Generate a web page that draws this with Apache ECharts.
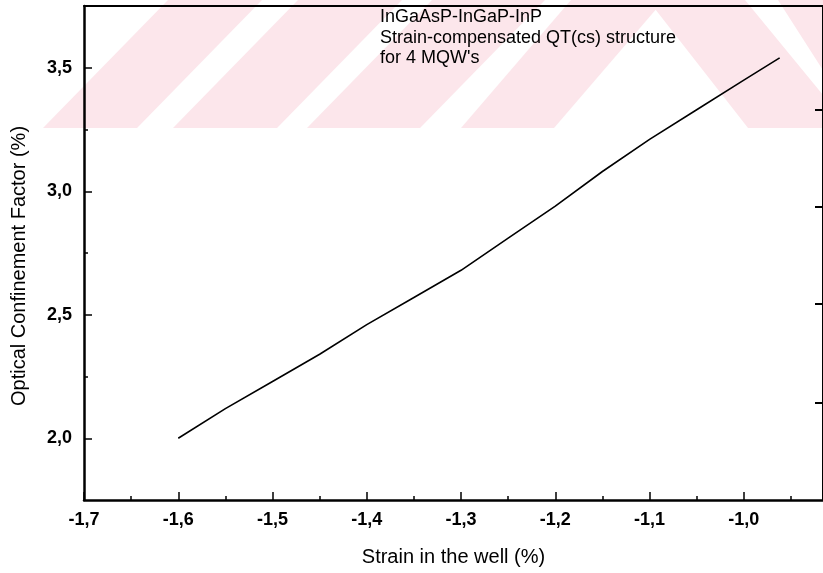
<!DOCTYPE html>
<html>
<head>
<meta charset="utf-8">
<script src="https://cdn.jsdelivr.net/npm/echarts@6/dist/echarts.min.js"></script>
<style>
html,body{margin:0;padding:0;background:#fff;}
#chart{width:823px;height:573px;}
</style>
</head>
<body>
<div id="chart"></div>
<script>
// ---- data ----
const strain = [-1.60, -1.55, -1.50, -1.45, -1.40, -1.35, -1.30, -1.25, -1.20, -1.15, -1.10, -1.05, -1.00, -0.962];
const confinement = [2.00, 2.12, 2.23, 2.34, 2.46, 2.57, 2.68, 2.81, 2.94, 3.08, 3.21, 3.33, 3.45, 3.54];
const xMajorTicks = [-1.7, -1.6, -1.5, -1.4, -1.3, -1.2, -1.1, -1.0];
const xMinorTicks = [-1.65, -1.55, -1.45, -1.35, -1.25, -1.15, -1.05, -0.95];
const yMajorTicks = [2.0, 2.5, 3.0, 3.5];
const yMinorTicks = [2.25, 2.75, 3.25];
const yRightTicks = [2.145, 2.543, 2.937, 3.331];
const noteLines = ["InGaAsP-InGaP-InP", "Strain-compensated QT(cs) structure", "for 4 MQW's"];
const xTitle = "Strain in the well (%)";
const yTitle = "Optical Confinement Factor (%)";

const FONT = '"Liberation Sans", Arial, sans-serif';
const comma = v => Number(v).toFixed(1).replace('.', ',');

// watermark stripes (decorative background)
const PINK = '#fce6eb';
const BAND = 128;
function slantPoly(x0, x1, dx) { // bottom x0..x1, shifted by dx at the top
  return [[x0, BAND], [x1, BAND], [x1 + dx, 0], [x0 + dx, 0]];
}
const stripes = [
  slantPoly(43, 137, 125),
  slantPoly(173, 277, 125),
  slantPoly(307, 420, 125),
  slantPoly(461, 554, 110),
  [[748, BAND], [850, BAND], [745, 0], [648, 0]],
  [[860, BAND], [900, BAND], [900, 0], [778, 0]]
];
const graphics = stripes.map(p => ({
  type: 'polygon', z: -10, silent: true,
  shape: { points: p }, style: { fill: PINK }
}));
graphics.push({
  type: 'text', left: 380, top: 7, z: 50,
  style: { text: noteLines.join('\n'), font: '18px ' + FONT, fill: '#000', lineHeight: 20.5 }
});

const chart = echarts.init(document.getElementById('chart'), null, { renderer: 'canvas' });
const axisLineStyle = { color: '#000', width: 2.5 };
const baseX = { type: 'value', min: -1.7, max: -0.916, splitLine: { show: false } };
const baseY = { type: 'value', min: 1.75, max: 3.75, splitLine: { show: false } };

chart.setOption({
  animation: false,
  backgroundColor: '#fff',
  graphic: graphics,
  grid: { left: 84, top: 6, right: -4, bottom: 73, containLabel: false },
  xAxis: [
    Object.assign({}, baseX, {
      position: 'bottom',
      axisLine: { show: true, onZero: false, lineStyle: axisLineStyle },
      axisTick: { show: true, inside: true, length: 8, customValues: xMajorTicks, lineStyle: { color: '#000', width: 1.5 } },
      axisLabel: { show: true, customValues: xMajorTicks, formatter: comma, margin: 11,
        fontFamily: FONT, fontSize: 18, fontWeight: 'bold', color: '#000' },
      name: xTitle, nameLocation: 'middle', nameGap: 47,
      nameTextStyle: { fontFamily: FONT, fontSize: 20, color: '#000' }
    }),
    Object.assign({}, baseX, {
      position: 'bottom',
      axisLine: { show: false, onZero: false },
      axisTick: { show: true, inside: true, length: 4, customValues: xMinorTicks, lineStyle: { color: '#000', width: 1.5 } },
      axisLabel: { show: false }
    }),
    Object.assign({}, baseX, {
      position: 'top',
      axisLine: { show: true, onZero: false, lineStyle: { color: '#000', width: 2 } },
      axisTick: { show: false },
      axisLabel: { show: false }
    })
  ],
  yAxis: [
    Object.assign({}, baseY, {
      position: 'left',
      axisLine: { show: true, onZero: false, lineStyle: axisLineStyle },
      axisTick: { show: true, inside: true, length: 8, customValues: yMajorTicks, lineStyle: { color: '#000', width: 1.5 } },
      axisLabel: { show: true, customValues: yMajorTicks, formatter: comma, margin: 12,
        fontFamily: FONT, fontSize: 18, fontWeight: 'bold', color: '#000' },
      name: yTitle, nameLocation: 'middle', nameGap: 55, nameRotate: 90,
      nameTextStyle: { fontFamily: FONT, fontSize: 20, color: '#000', padding: [0, 26, 0, 0] }
    }),
    Object.assign({}, baseY, {
      position: 'left',
      axisLine: { show: false, onZero: false },
      axisTick: { show: true, inside: true, length: 4, customValues: yMinorTicks, lineStyle: { color: '#000', width: 1.5 } },
      axisLabel: { show: false }
    }),
    Object.assign({}, baseY, {
      position: 'right',
      axisLine: { show: true, onZero: false, lineStyle: { color: '#000', width: 2 } },
      axisTick: { show: true, inside: true, length: 8, customValues: yRightTicks, lineStyle: { color: '#000', width: 2 } },
      axisLabel: { show: false }
    })
  ],
  series: [{
    type: 'line',
    xAxisIndex: 0, yAxisIndex: 0,
    data: strain.map((s, i) => [s, confinement[i]]),
    showSymbol: false,
    smooth: false,
    lineStyle: { color: '#000', width: 1.6 },
    z: 5
  }]
});
</script>
</body>
</html>
